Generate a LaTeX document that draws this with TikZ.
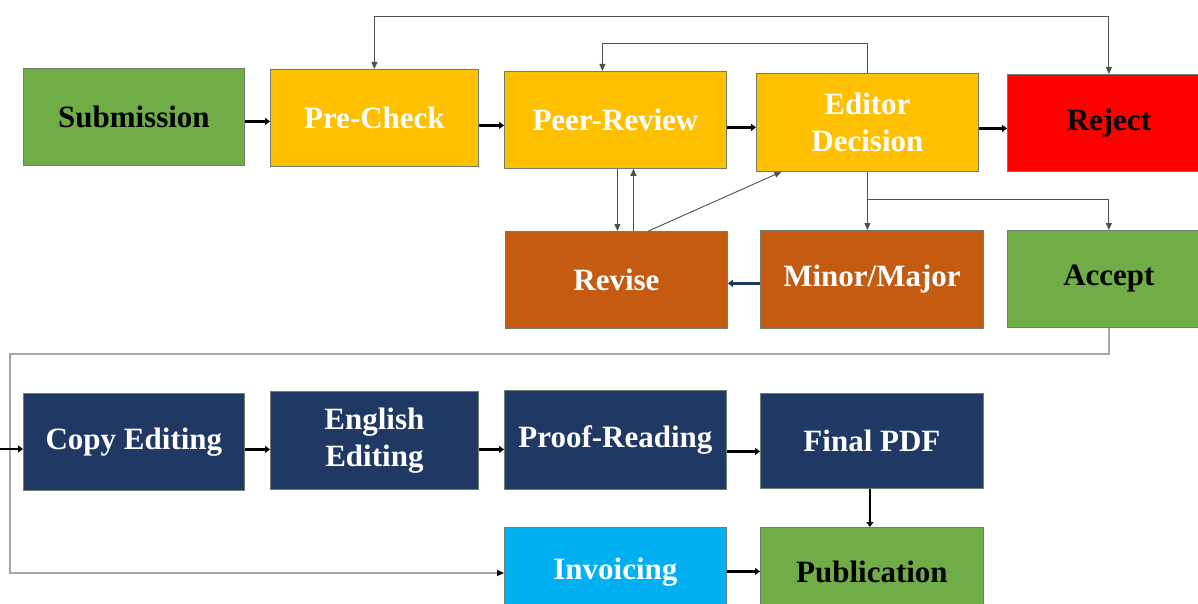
\documentclass[tikz,border=0pt]{standalone}
\usepackage{fontspec}
\setmainfont{Liberation Serif}
\usetikzlibrary{arrows.meta}
\definecolor{cgreen}{HTML}{70AD47}
\definecolor{cyellow}{HTML}{FFC000}
\definecolor{cred}{HTML}{FF0000}
\definecolor{corange}{HTML}{C55A11}
\definecolor{cnavy}{HTML}{203864}
\definecolor{cblue}{HTML}{00B0F0}
\definecolor{cline}{HTML}{505050}
\definecolor{clight}{HTML}{A6A6A6}
\definecolor{cborder}{HTML}{6F7F6F}
\tikzset{
  ttip/.tip={Triangle[length=7pt,width=6pt]},
  box/.style={draw=cborder, line width=0.8pt, inner sep=0pt, anchor=north west,
    align=center, font=\fontsize{31}{37}\selectfont\bfseries},
  sz/.style 2 args={minimum width=#1pt, minimum height=#2pt},
  fgreen/.style={box, fill=cgreen, text=black},
  fyellow/.style={box, fill=cyellow, text=white},
  fred/.style={box, fill=cred, text=black},
  forange/.style={box, fill=corange, text=white},
  fnavy/.style={box, fill=cnavy, text=white},
  fblue/.style={box, fill=cblue, text=white},
  thickarrow/.style={line width=2.6pt, draw=black, -{Triangle[length=5pt,width=7pt]}},
  navyarrow/.style={line width=2.2pt, draw=cnavy, -{Triangle[length=5pt,width=7pt]}},
  thinline/.style={line width=0.9pt, draw=cline},
  lightline/.style={line width=1.2pt, draw=clight},
}
\begin{document}
\begin{tikzpicture}[x=1pt,y=-1pt]
\useasboundingbox (0,0) rectangle (1198,604);
\clip (0,0) rectangle (1198,604);
\fill[white] (0,0) rectangle (1198,604);
% row 1
\node[fgreen, sz={221}{97}] (sub) at (23,68) {Submission};
\node[fyellow, sz={208}{97}] (pre) at (270,69) {Pre-Check};
\node[fyellow, sz={222}{97}] (peer) at (504,71) {Peer-Review};
\node[fyellow, sz={222}{98}] (ed) at (756,73) {Editor\\Decision};
\node[fred, sz={203}{97}] (rej) at (1007,74) {Reject};
% row 2
\node[forange, sz={222}{97}] (rev) at (505,231) {Revise};
\node[forange, sz={223}{98}] (mm) at (760,230) {Minor/Major};
\node[fgreen, sz={203}{97}] (acc) at (1007,230) {Accept};
% row 3
\node[fnavy, sz={221}{97}] (ce) at (23,393) {Copy Editing};
\node[fnavy, sz={208}{98}] (ee) at (270,391) {English\\Editing};
\node[fnavy, sz={222}{99}] (pr) at (504,390) {Proof-Reading};
\node[fnavy, sz={223}{95}] (pdf) at (760,393) {Final PDF};
% row 4
\node[fblue, sz={222}{90}] (inv) at (504,527) {Invoicing};
\node[fgreen, sz={223}{90}] (pub) at (760,527) {Publication};
% helper coordinates
\coordinate (t1) at (0,16);
\coordinate (t2) at (0,43);
\coordinate (t3) at (0,199);
\coordinate (L1) at (10,354);
\coordinate (L2) at (10,573);
\coordinate (cein) at (0,449);
% thick arrows row 1
\draw[thickarrow] ([yshift=-4.5pt]sub.east) -- ([yshift=-4.5pt]sub.east -| pre.west);
\draw[thickarrow] ([yshift=-7.5pt]pre.east) -- ([yshift=-7.5pt]pre.east -| peer.west);
\draw[thickarrow] ([yshift=-7.5pt]peer.east) -- ([yshift=-7.5pt]peer.east -| ed.west);
\draw[thickarrow] ([yshift=-6pt]ed.east) -- ([yshift=-6pt]ed.east -| rej.west);
% top loops
\draw[thinline, ttip-ttip] (rej.north) -- (rej.north |- t1) -| (pre.north);
\draw[thinline, -ttip] (ed.north) -- (ed.north |- t2) -| ([xshift=-13pt]peer.north);
% peer-review <-> revise
\draw[thinline, -ttip] ([xshift=2pt]peer.south) -- ([xshift=2pt]peer.south |- rev.north);
\draw[thinline, -ttip] ([xshift=17pt]rev.north) -- ([xshift=17pt]rev.north |- peer.south);
\draw[thinline, -ttip] ([xshift=32pt]rev.north) -- ([xshift=-86pt]ed.south);
% editor decision -> minor/major, accept
\draw[thinline, -ttip] (ed.south) -- (ed.south |- mm.north);
\draw[thinline, -ttip] (ed.south |- t3) -| (acc.north);
% minor/major -> revise
\draw[navyarrow] ([yshift=-4pt]mm.west) -- ([yshift=-4pt]mm.west -| rev.east);
% accept -> production
\draw[lightline] (acc.south) |- (L1) -- (L2) -- ([xshift=-6pt]L2 -| inv.west);
\draw[line width=1.2pt, -ttip] ([xshift=-7pt]L2 -| inv.west) -- (L2 -| inv.west);
\draw[thickarrow] (cein) -- (cein -| ce.west);
% row 3 arrows
\draw[thickarrow] ([yshift=-7.5pt]ce.east) -- ([yshift=-7.5pt]ce.east -| ee.west);
\draw[thickarrow] ([yshift=-9pt]ee.east) -- ([yshift=-9pt]ee.east -| pr.west);
\draw[thickarrow] ([yshift=-11.5pt]pr.east) -- ([yshift=-11.5pt]pr.east -| pdf.west);
\draw[thickarrow] ([xshift=-2pt]pdf.south) -- ([xshift=-2pt]pdf.south |- pub.north);
\draw[thickarrow] ([yshift=1pt]inv.east) -- ([yshift=1pt]inv.east -| pub.west);
\end{tikzpicture}
\end{document}
